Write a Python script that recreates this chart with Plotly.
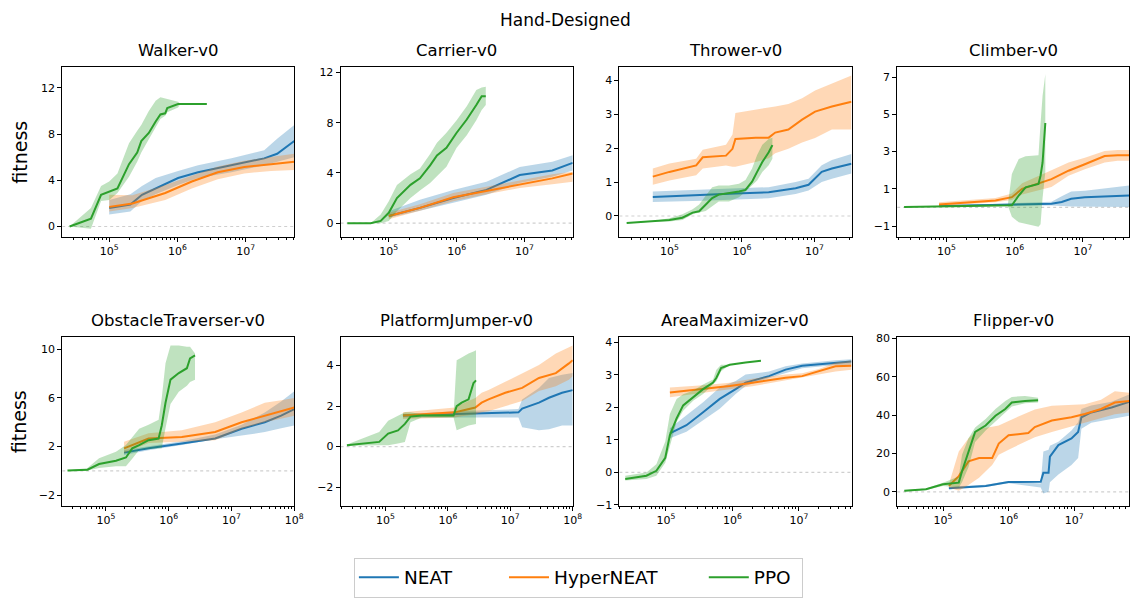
import math
import plotly.graph_objects as go

# ---------------- data: environment steps (x), mean fitness (y), band (lo/hi) ----------------
METHODS = ["NEAT", "HyperNEAT", "PPO"]

# Walker-v0
walker_neat = dict(
    x=[1e5, 2.04e5, 3.02e5, 4.79e5, 1.02e6, 2e6, 6.17e6, 1.86e7, 2.88e7, 5.13e7],
    y=[1.6, 1.9, 2.75, 3.3, 4.2, 4.7, 5.3, 5.9, 6.3, 7.4],
    lo=[1.05, 1.3, 2.2, 2.8, 3.6, 4.2, 4.7, 5.3, 5.6, 6.0],
    hi=[2.3, 2.8, 3.5, 4.2, 4.8, 5.3, 5.9, 6.6, 7.6, 8.8])
walker_hyper = dict(
    x=[1e5, 2.19e5, 6.61e5, 1.62e6, 3.89e6, 9.5e6, 2.34e7, 5.13e7],
    y=[1.7, 2.0, 2.9, 3.9, 4.7, 5.15, 5.4, 5.6],
    lo=[1.3, 1.6, 2.3, 3.3, 4.1, 4.6, 4.8, 4.9],
    hi=[2.75, 2.7, 3.6, 4.4, 5.2, 5.7, 6.0, 6.3])
walker_ppo = dict(
    x=[2.63e4, 5.4e4, 7.6e4, 1e5, 1.32e5, 1.95e5, 2.57e5, 2.95e5, 3.8e5, 4.79e5,
       5.62e5, 6.61e5, 7.08e5, 1.02e6, 1.1e6, 2.69e6],
    y=[0, 0.68, 2.75, 3.0, 3.3, 5.4, 6.4, 7.4, 8.1, 9.1, 9.7, 9.8, 10.25, 10.6, 10.6, 10.6],
    lo=[0, -0.2, 2.2, 2.3, 2.9, 4.3, 5.6, 6.4, 7.6, 8.6, 9.3, 9.6, 9.9, 10.3, 10.6, 10.6],
    hi=[0, 1.6, 3.5, 3.9, 4.6, 7.2, 8.3, 8.8, 10.0, 10.9, 11.2, 11.1, 11.0, 10.8, 10.6, 10.6])

# Carrier-v0
carrier_neat = dict(
    x=[1e5, 2.88e5, 8.91e5, 2.75e6, 8.5e6, 2.57e7, 5.13e7],
    y=[0.57, 1.22, 2.0, 2.65, 3.83, 4.2, 4.8],
    lo=[0.44, 1.0, 1.6, 2.26, 3.2, 3.7, 4.2],
    hi=[0.96, 1.87, 2.65, 3.3, 4.48, 4.9, 5.4])
carrier_hyper = dict(
    x=[1e5, 2.88e5, 8.91e5, 2.75e6, 8.5e6, 2.57e7, 5.13e7],
    y=[0.57, 1.22, 2.06, 2.58, 3.1, 3.57, 3.96],
    lo=[0.31, 1.0, 1.75, 2.3, 2.8, 3.1, 3.3],
    hi=[0.83, 1.5, 2.4, 2.9, 3.44, 3.9, 4.1])
carrier_ppo = dict(
    x=[2.45e4, 5.4e4, 7.6e4, 1e5, 1.32e5, 2.09e5, 2.88e5, 4.07e5, 5.13e5, 7.08e5,
       1e6, 1.41e6, 1.95e6, 2.34e6, 2.69e6],
    y=[0, 0, 0.18, 0.83, 2.0, 3.05, 3.57, 4.6, 5.4, 6.0, 7.2, 8.25, 9.4, 10.1, 10.1],
    lo=[0, 0, 0, 0.18, 0.96, 2.0, 2.6, 3.2, 3.7, 4.5, 6.0, 7.0, 8.2, 9.0, 9.4],
    hi=[0, 0, 0.7, 1.75, 3.05, 3.9, 4.35, 5.5, 6.4, 7.2, 8.2, 9.3, 10.6, 10.8, 10.85])

# Thrower-v0
thrower_neat = dict(
    x=[5.9e4, 2.88e5, 8.13e5, 2.34e6, 5.5e6, 8.3e6, 1.26e7, 1.74e7, 3.24e7],
    y=[0.56, 0.61, 0.66, 0.70, 0.82, 0.92, 1.3, 1.40, 1.54],
    lo=[0.41, 0.45, 0.48, 0.52, 0.65, 0.75, 1.0, 1.1, 1.25],
    hi=[0.72, 0.78, 0.82, 0.85, 1.0, 1.1, 1.5, 1.65, 1.83])
thrower_hyper = dict(
    x=[5.9e4, 1e5, 2.34e5, 2.88e5, 6.03e5, 7.41e5, 8.13e5, 1.55e6, 2.34e6, 2.88e6,
       4.37e6, 6.76e6, 1.02e7, 1.74e7, 3.24e7],
    y=[1.16, 1.30, 1.49, 1.73, 1.78, 1.98, 2.27, 2.31, 2.31, 2.46, 2.55, 2.84, 3.08, 3.23, 3.37],
    lo=[0.92, 1.05, 1.2, 1.4, 1.49, 1.45, 1.45, 1.59, 1.7, 1.85, 1.98, 2.17, 2.3, 2.55, 2.55],
    hi=[1.4, 1.55, 1.69, 1.95, 2.1, 2.4, 3.04, 3.13, 3.18, 3.23, 3.3, 3.47, 3.7, 3.9, 4.14])
thrower_ppo = dict(
    x=[2.57e4, 5.9e4, 1e5, 1.51e5, 2.09e5, 2.57e5, 3.16e5, 3.89e5, 4.79e5, 6.61e5,
       9.12e5, 1.12e6, 1.38e6, 1.62e6, 1.91e6, 2.34e6, 2.63e6],
    y=[-0.21, -0.16, -0.12, -0.05, 0.1, 0.14, 0.34, 0.53, 0.63, 0.67, 0.72, 0.77, 1.01,
       1.3, 1.59, 1.88, 2.09],
    lo=[-0.21, -0.17, -0.16, -0.12, 0.05, 0.1, 0.15, 0.3, 0.43, 0.43, 0.55, 0.72, 0.9,
        1.05, 1.3, 1.5, 1.69],
    hi=[-0.21, -0.15, -0.07, 0.05, 0.2, 0.34, 0.6, 0.85, 0.9, 0.9, 0.95, 1.06, 1.4,
        1.8, 2.1, 2.27, 2.31])

# Climber-v0
climber_neat = dict(
    x=[7.8e4, 3.47e6, 4.9e6, 6.76e6, 1.07e7, 3.24e7, 4.79e7],
    y=[0.07, 0.2, 0.29, 0.46, 0.55, 0.64, 0.64],
    lo=[0.05, 0.1, 0.08, 0.05, 0.02, 0.02, 0.02],
    hi=[0.09, 0.3, 0.6, 0.85, 0.9, 1.1, 1.17])
climber_hyper = dict(
    x=[7.8e4, 5.25e5, 9.12e5, 1.29e6, 3.47e6, 6.17e6, 1.07e7, 2.09e7, 3.24e7, 4.79e7],
    y=[0.16, 0.37, 0.55, 1.0, 1.52, 1.97, 2.32, 2.76, 2.8, 2.8],
    lo=[0.07, 0.28, 0.4, 0.7, 1.1, 1.7, 2.05, 2.41, 2.5, 2.5],
    hi=[0.28, 0.5, 0.75, 1.3, 2.0, 2.41, 2.67, 3.03, 3.08, 3.08])
climber_ppo = dict(
    x=[2.4e4, 1.23e5, 7.94e5, 9.12e5, 1.15e6, 1.45e6, 2.24e6, 2.4e6, 2.57e6, 2.82e6],
    y=[0.02, 0.06, 0.1, 0.11, 0.64, 1.08, 1.26, 1.7, 2.41, 4.53],
    lo=[0.02, 0.06, 0.1, -0.5, -0.8, -0.9, -1.04, -0.9, 0.5, 1.9],
    hi=[0.02, 0.06, 0.12, 1.8, 2.6, 2.75, 2.8, 4.5, 6.0, 7.15])

# ObstacleTraverser-v0
obstacle_neat = dict(
    x=[1.95e5, 4.79e5, 1.62e6, 5.5e6, 1.45e7, 3.39e7, 6.17e7, 1e8],
    y=[1.5, 1.85, 2.25, 2.66, 3.46, 4.0, 4.54, 5.08],
    lo=[1.31, 1.7, 2.12, 2.6, 2.9, 3.19, 3.5, 3.73],
    hi=[1.71, 2.0, 2.44, 3.0, 3.8, 4.8, 5.7, 6.55])
obstacle_hyper = dict(
    x=[1.95e5, 4.79e5, 1.62e6, 5.5e6, 1.45e7, 3.39e7, 6.17e7, 1e8],
    y=[1.85, 2.66, 2.79, 3.19, 4.0, 4.54, 4.9, 5.21],
    lo=[1.44, 2.3, 2.39, 2.52, 3.46, 4.0, 4.3, 4.54],
    hi=[2.39, 3.1, 3.33, 4.0, 4.8, 5.6, 5.8, 6.0])
obstacle_ppo = dict(
    x=[2.45e4, 5.1e4, 7.8e4, 1.45e5, 2.09e5, 2.63e5, 3.39e5, 4.79e5, 6.92e5, 7.76e5,
       8.91e5, 1.07e6, 1.45e6, 1.95e6, 2.19e6, 2.63e6],
    y=[0.02, 0.1, 0.56, 0.83, 1.1, 1.85, 2.12, 2.52, 2.66, 3.73, 5.6, 7.5, 8.04, 8.44, 9.25, 9.5],
    lo=[0.02, 0.02, 0.23, 0.37, 0.37, 1.0, 1.71, 1.8, 1.85, 1.85, 3.5, 5.5, 6.5, 7.0, 7.3, 7.5],
    hi=[0.02, 0.23, 1.04, 1.58, 2.12, 2.8, 3.46, 3.8, 4.2, 6.0, 8.84, 10.3, 10.3, 10.2, 10.2, 9.65])

# PlatformJumper-v0
platform_neat = dict(
    x=[1.9e5, 1.29e6, 1.35e7, 1.55e7, 2.88e7, 4.17e7, 6.76e7, 1e8],
    y=[1.53, 1.59, 1.69, 1.88, 2.17, 2.41, 2.66, 2.79],
    lo=[1.44, 1.44, 1.44, 0.96, 0.8, 0.85, 1.04, 1.04],
    hi=[1.6, 1.75, 1.85, 2.33, 2.9, 3.39, 3.55, 3.63])
platform_hyper = dict(
    x=[1.9e5, 1.29e6, 1.66e6, 2.75e6, 3.47e6, 4.47e6, 8.3e6, 1.55e7, 2.88e7, 5.37e7,
       8.7e7, 1e8],
    y=[1.53, 1.69, 1.77, 1.93, 2.17, 2.33, 2.66, 2.9, 3.39, 3.63, 4.11, 4.27],
    lo=[1.36, 1.44, 1.5, 1.6, 1.69, 1.75, 2.0, 2.25, 2.74, 2.98, 3.3, 3.47],
    hi=[1.69, 1.93, 2.1, 2.4, 2.66, 2.8, 3.2, 3.63, 4.03, 4.6, 4.9, 5.0])
platform_ppo = dict(
    x=[2.4e4, 7.9e4, 1.1e5, 1.58e5, 2.04e5, 2.51e5, 3.8e5, 1.23e6, 1.38e6, 1.66e6,
       2.14e6, 2.57e6, 2.82e6],
    y=[0.07, 0.23, 0.64, 0.8, 1.12, 1.48, 1.53, 1.53, 2.0, 2.17, 2.33, 3.14, 3.27],
    lo=[0.04, 0.07, 0.07, 0.15, 0.23, 1.2, 1.44, 1.44, 0.8, 0.9, 1.04, 1.1, 1.12],
    hi=[0.1, 0.72, 1.28, 1.5, 1.69, 1.69, 1.6, 1.6, 4.27, 4.4, 4.6, 4.7, 4.76])

# AreaMaximizer-v0
area_neat = dict(
    x=[1.15e5, 2.04e5, 3.63e5, 6.46e5, 1.12e6, 1.58e6, 3.55e6, 6.31e6, 1.12e7, 3.55e7, 6.17e7],
    y=[1.2, 1.45, 1.85, 2.26, 2.56, 2.76, 2.96, 3.16, 3.28, 3.38, 3.41],
    lo=[1.05, 1.25, 1.6, 1.96, 2.41, 2.66, 2.9, 3.06, 3.2, 3.3, 3.31],
    hi=[1.36, 1.75, 2.16, 2.61, 2.81, 3.01, 3.1, 3.26, 3.35, 3.45, 3.48])
area_hyper = dict(
    x=[1.15e5, 3.63e5, 9.12e5, 2e6, 6.31e6, 1.12e7, 2e7, 3.55e7, 6.17e7],
    y=[2.46, 2.56, 2.66, 2.76, 2.91, 2.96, 3.11, 3.26, 3.28],
    lo=[2.31, 2.45, 2.56, 2.65, 2.81, 2.9, 3.01, 3.1, 3.16],
    hi=[2.61, 2.68, 2.76, 2.88, 3.01, 3.05, 3.18, 3.38, 3.44])
area_ppo = dict(
    x=[2.45e4, 5.1e4, 7.2e4, 9.8e4, 1.15e5, 1.45e5, 1.82e5, 2.57e5, 3.63e5, 5.13e5,
       5.75e5, 6.76e5, 9.12e5, 1.58e6, 2.69e6],
    y=[-0.2, -0.1, 0.05, 0.45, 1.15, 1.66, 2.06, 2.31, 2.56, 2.76, 2.91, 3.21, 3.31, 3.38, 3.43],
    lo=[-0.25, -0.2, -0.1, 0.3, 0.8, 1.55, 1.9, 2.2, 2.41, 2.71, 2.8, 3.11, 3.31, 3.38, 3.43],
    hi=[-0.1, 0.0, 0.25, 0.95, 1.8, 2.26, 2.4, 2.51, 2.7, 2.86, 3.16, 3.31, 3.31, 3.38, 3.43])

# Flipper-v0
flipper_neat = dict(
    x=[1.23e5, 4.47e5, 1e6, 3.09e6, 3.39e6, 4.07e6, 4.27e6, 5.75e6, 9.1e6, 1.15e7,
       1.29e7, 1.82e7, 3.72e7, 6.92e7],
    y=[1.9, 3.1, 5.1, 5.3, 9.9, 9.9, 18.4, 24.4, 27.8, 31.2, 38.9, 41.4, 44, 46.9],
    lo=[1.4, 2.5, 4.5, 2.2, -0.9, 0, 5, 9, 14, 17.6, 32.9, 36, 38, 39.7],
    hi=[2.6, 3.7, 5.6, 4.3, 21, 22, 24, 26.1, 32, 36.3, 43.2, 45, 47, 50.8])
flipper_hyper = dict(
    x=[1.23e5, 1.74e5, 2.45e5, 3.55e5, 5.62e5, 7.08e5, 1e6, 2e6, 2.51e6, 4.57e6,
       9.1e6, 1.45e7, 2.57e7, 4.17e7, 6.92e7],
    y=[3.1, 8.2, 15.9, 17.6, 17.6, 25.2, 29.5, 30.7, 33.8, 37.2, 38.9, 40.6, 43.2, 46.6, 47.4],
    lo=[2.2, 0.5, 3.5, 7.3, 14, 19.3, 22, 27, 28.5, 31.2, 34, 36.3, 38.5, 40.5, 41.4],
    hi=[3.9, 21, 28, 32.9, 34, 34.6, 37, 41.4, 43, 44.9, 45.5, 45.7, 48, 52.5, 51.7])
flipper_ppo = dict(
    x=[2.57e4, 5.5e4, 1e5, 1.74e5, 1.95e5, 2.45e5, 3.09e5, 4.47e5, 6.31e5, 8.91e5,
       1.12e6, 1.78e6, 2.82e6],
    y=[0.5, 1.4, 3.9, 4.8, 10.7, 21, 31.2, 34.6, 39.7, 43.2, 46.6, 47.4, 47.8],
    lo=[0.2, 1.0, 3.1, 2.2, 5, 13, 26, 32, 36.5, 41.4, 44.5, 46.2, 46.6],
    hi=[0.8, 1.8, 4.8, 8.0, 19.3, 28, 33.5, 38, 43.2, 47.4, 49.5, 50, 49.1])

TITLES = ["Walker-v0", "Carrier-v0", "Thrower-v0", "Climber-v0",
          "ObstacleTraverser-v0", "PlatformJumper-v0", "AreaMaximizer-v0", "Flipper-v0"]
SERIES = [
    (walker_neat, walker_hyper, walker_ppo),
    (carrier_neat, carrier_hyper, carrier_ppo),
    (thrower_neat, thrower_hyper, thrower_ppo),
    (climber_neat, climber_hyper, climber_ppo),
    (obstacle_neat, obstacle_hyper, obstacle_ppo),
    (platform_neat, platform_hyper, platform_ppo),
    (area_neat, area_hyper, area_ppo),
    (flipper_neat, flipper_hyper, flipper_ppo),
]
# x limits in environment steps, y limits in fitness
X_LIMITS = [(2.05e4, 5.13e7), (1.95e4, 5.13e7), (2.04e4, 3.24e7), (1.9e4, 4.79e7),
            (2.02e4, 1.0e8), (1.9e4, 1.0e8), (2.0e4, 6.17e7), (2.0e4, 6.92e7)]
Y_LIMITS = [(-0.88, 13.8), (-1.07, 12.42), (-0.61, 4.39), (-1.57, 7.53),
            (-2.86, 11.0), (-2.92, 5.41), (-1.02, 4.16), (-7.2, 80.7)]
Y_TICKS = [[0, 4, 8, 12], [0, 4, 8, 12], [0, 1, 2, 3, 4], [-1, 1, 3, 5, 7],
           [-2, 2, 6, 10], [-2, 0, 2, 4], [-1, 0, 1, 2, 3, 4], [0, 20, 40, 60, 80]]

# ---------------- styling ----------------
W, H = 1140, 599
FONT = "DejaVu Sans"
LINE_COLORS = {"NEAT": "#1f77b4", "HyperNEAT": "#ff7f0e", "PPO": "#2ca02c"}
FILL_COLORS = {"NEAT": "rgba(31,119,180,0.3)", "HyperNEAT": "rgba(255,127,14,0.3)",
               "PPO": "rgba(44,160,44,0.3)"}
# trailing non-breaking spaces widen the gaps between legend entries
LEGEND_PAD = {"NEAT": "\u00a0" * 8, "HyperNEAT": "\u00a0" * 7, "PPO": "\u00a0"}
COL_LEFT = [62.7, 343.3, 624.3, 904.3]
PANEL_W = 234.0
ROW_TOP = [63.3, 338.3]
ROW_BOTTOM = [236.0, 510.0]


def fmt_tick(v):
    return ("\u2212" + str(abs(v))) if v < 0 else str(v)


fig = go.Figure()
layout_axes = {}

for i, (title, series) in enumerate(zip(TITLES, SERIES)):
    r, c = divmod(i, 4)
    n = i + 1
    xa, ya = ("x" if n == 1 else f"x{n}"), ("y" if n == 1 else f"y{n}")

    # zero reference line
    x_lo, x_hi = X_LIMITS[i]
    fig.add_trace(go.Scatter(x=[x_lo, x_hi], y=[0, 0], mode="lines",
                             line=dict(color="#cfcfcf", width=1.2, dash="dot"),
                             hoverinfo="skip", showlegend=False, xaxis=xa, yaxis=ya))

    for name, s in zip(METHODS, series):
        fig.add_trace(go.Scatter(
            x=list(s["x"]) + list(s["x"])[::-1],
            y=list(s["hi"]) + list(s["lo"])[::-1],
            fill="toself", fillcolor=FILL_COLORS[name], line=dict(width=0),
            mode="lines", hoverinfo="skip", showlegend=False, xaxis=xa, yaxis=ya))
        fig.add_trace(go.Scatter(
            x=s["x"], y=s["y"], mode="lines", name=name + LEGEND_PAD[name],
            line=dict(color=LINE_COLORS[name], width=2),
            showlegend=(i == 0), legendgroup=name, xaxis=xa, yaxis=ya))

    # axis geometry
    x0 = COL_LEFT[c] / W
    x1 = min((COL_LEFT[c] + PANEL_W) / W, 0.9995)
    y0 = 1 - ROW_BOTTOM[r] / H
    y1 = 1 - ROW_TOP[r] / H

    lg0, lg1 = math.log10(x_lo), math.log10(x_hi)
    majors = [10 ** k for k in range(5, 9) if lg0 <= k <= lg1 + 1e-6]
    minors = [m * 10 ** k for k in range(4, 9) for m in range(2, 10)
              if lg0 <= math.log10(m * 10 ** k) <= lg1]

    axis_common = dict(showline=True, mirror=True, linecolor="black", linewidth=1,
                       showgrid=False, zeroline=False, ticks="outside", ticklen=4,
                       tickwidth=1, tickcolor="black",
                       tickfont=dict(family=FONT, size=11, color="black"))
    layout_axes["xaxis" if n == 1 else f"xaxis{n}"] = dict(
        axis_common, type="log", range=[lg0, lg1 + 0.001], domain=[x0, x1],
        anchor=ya, tickmode="array", tickvals=majors,
        ticktext=[f"10<sup>{int(round(math.log10(v)))}</sup>" for v in majors],
        minor=dict(tickmode="array", tickvals=minors, ticks="outside", ticklen=2,
                   tickwidth=0.8, tickcolor="black", showgrid=False))
    layout_axes["yaxis" if n == 1 else f"yaxis{n}"] = dict(
        axis_common, range=list(Y_LIMITS[i]), domain=[y0, y1], anchor=xa,
        tickmode="array", tickvals=Y_TICKS[i],
        ticktext=[fmt_tick(v) for v in Y_TICKS[i]])

annotations = []
for i, title in enumerate(TITLES):
    r, c = divmod(i, 4)
    annotations.append(dict(
        text=title, xref="paper", yref="paper",
        x=(COL_LEFT[c] + PANEL_W / 2) / W, y=1 - (ROW_TOP[r] - 5) / H,
        xanchor="center", yanchor="bottom", showarrow=False,
        font=dict(family=FONT, size=16.5, color="black")))
for r in range(2):
    annotations.append(dict(
        text="fitness", xref="paper", yref="paper", x=20 / W,
        y=1 - (ROW_TOP[r] + ROW_BOTTOM[r]) / 2 / H, textangle=-90,
        xanchor="center", yanchor="middle", showarrow=False,
        font=dict(family=FONT, size=19, color="black")))
annotations.append(dict(
    text="Hand-Designed", xref="paper", yref="paper", x=570 / W, y=1 - 15 / H,
    xanchor="center", yanchor="middle", showarrow=False,
    font=dict(family=FONT, size=17, color="black")))

fig.update_layout(
    width=W, height=H, margin=dict(l=0, r=0, t=0, b=0),
    paper_bgcolor="white", plot_bgcolor="white",
    font=dict(family=FONT, color="black"),
    annotations=annotations,
    legend=dict(orientation="h", x=583 / W, xanchor="center", y=1 - 563 / H,
                yanchor="top", bordercolor="#cccccc", borderwidth=1,
                font=dict(family=FONT, size=18.5, color="black"),
                itemwidth=40, tracegroupgap=0),
    **layout_axes)

fig.write_html("out.html")
